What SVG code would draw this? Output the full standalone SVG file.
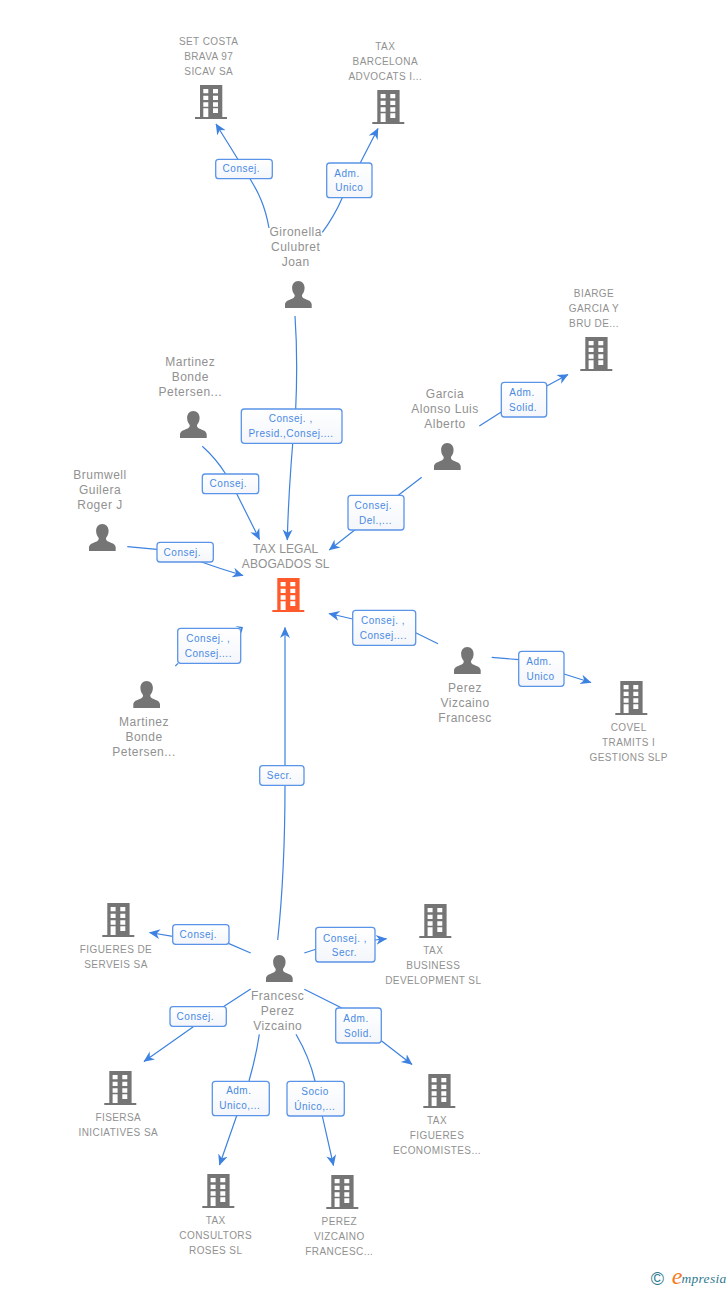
<svg xmlns="http://www.w3.org/2000/svg" xmlns:xlink="http://www.w3.org/1999/xlink" width="728" height="1290" viewBox="0 0 728 1290">
<style>
text{font-family:"Liberation Sans",Arial,sans-serif;text-anchor:middle}
.c{font-size:10px;letter-spacing:.42px;fill:#919191}
.p{font-size:12px;letter-spacing:.5px;fill:#919191}
.m{font-size:12px;letter-spacing:.1px;fill:#919191}
.l{font-size:10px;letter-spacing:.5px;fill:#4a8ae3}
.e{fill:none;stroke:#3d82e0;stroke-width:1.2;marker-end:url(#a)}
.n{fill:none;stroke:#3d82e0;stroke-width:1.2}
.b{fill:url(#g);stroke:#5a94e8;stroke-width:1.3}
</style>
<defs>
<linearGradient id="g" x1="0" y1="0" x2="0" y2="1"><stop offset="0" stop-color="#ffffff"/><stop offset="1" stop-color="#f4f6fb"/></linearGradient>
<marker id="a" markerUnits="userSpaceOnUse" markerWidth="11" markerHeight="11" viewBox="0 0 10 10" refX="9.5" refY="5" orient="auto"><path d="M0,.5 L10,5 L0,9.5 L3,5 Z" fill="#3d82e0"/></marker>
<path id="bd" fill-rule="evenodd" d="M5,0H27.3V32H32V34H0V32H5ZM8.3,4V8.3H13.3V4ZM18,4V8.3H23V4ZM8.3,10.7V15H13.3V10.7ZM18,10.7V15H23V10.7ZM8.3,17.3V21.7H13.3V17.3ZM18,17.3V21.7H23V17.3ZM8.3,23.3V32H13.3V23.3ZM18,23.3V28H23V23.3Z"/>
<path id="pr" d="M13.3,0C17.2,0 19.6,3 19.6,6.8C19.6,10 18.4,12.4 17,14C16.8,15.6 17.4,16.6 19,17.4C23,19 26.7,20 26.7,23.5V27H0V23.5C0,20 3.7,19 7.7,17.4C9.3,16.6 9.9,15.6 9.7,14C8.3,12.4 7.1,10 7.1,6.8C7.1,3 9.4,0 13.3,0Z"/>
</defs>
<rect width="728" height="1290" fill="#ffffff"/>
<g id="connectors">
<path class="e" d="M269,228C265,205 258,192 250,178.7L216,124"/>
<path class="e" d="M322.3,232.3C330,222 337,210 342.3,197.7L378,128.5"/>
<path class="e" d="M295,316C297,345 297,380 295.7,409C290,470 288,510 287.3,540"/>
<path class="e" d="M202.3,446.3C212,455 220,465 225.7,474L236.7,493.7L259.5,539.5"/>
<path class="e" d="M127.3,546.7L157,549.3L201.7,562C215,567 228,571 243,575.5"/>
<path class="e" d="M421.7,477.3L398.3,495.3L354.7,530L329.3,550"/>
<path class="e" d="M479.3,426L501.3,412L546.7,386L568,374.5"/>
<path class="n" d="M175.3,666L178,663.3"/>
<path class="e" d="M438,643.7L415.7,632.7L352.7,619L329,613.5"/>
<path class="e" d="M491.7,657.3L518.7,659.7L564,674L591,682.5"/>
<path class="e" d="M277.7,940C283,890 285,840 285,785L285,627.5"/>
<path class="e" d="M250.7,953L229,943.7L172.7,936.3L149.5,932.5"/>
<path class="e" d="M304.3,953L315.7,949.3L375,940L386.5,938.7"/>
<path class="e" d="M250.7,989L223.3,1006.7L194,1026.3L144,1061.5"/>
<path class="e" d="M304.3,989.3L341.7,1008L381.3,1040.7L412,1064.5"/>
<path class="e" d="M259.3,1034.3C257,1050 253,1067 249,1081L236.7,1115.7L219.5,1165"/>
<path class="e" d="M296,1034.3C304,1048 311,1064 315,1081L322.3,1116L333.5,1165.5"/>
<g id="edge-labels">
<rect class="b" x="215.7" y="159.3" width="56.6" height="19.4" rx="3"/><text class="l" x="241.3" y="172">Consej.</text>
<rect class="b" x="326.7" y="163" width="45.3" height="34.7" rx="3"/><text class="l" x="347" y="176.7">Adm.</text><text class="l" x="349.3" y="191.3">Unico</text>
<rect class="b" x="241.3" y="409" width="100.7" height="34.3" rx="3"/><text class="l" x="290.7" y="422">Consej. ,</text><text class="l" x="291" y="437">Presid.,Consej....</text>
<rect class="b" x="202.3" y="474" width="56.4" height="19.7" rx="3"/><text class="l" x="228.3" y="487">Consej.</text>
<rect class="b" x="157" y="542.3" width="56.3" height="19.7" rx="3"/><text class="l" x="182.3" y="556">Consej.</text>
<rect class="b" x="348" y="495.3" width="56" height="34.7" rx="3"/><text class="l" x="373.3" y="509.3">Consej.</text><text class="l" x="375.5" y="524">Del.,...</text>
<rect class="b" x="501.3" y="382.3" width="45.4" height="34.7" rx="3"/><text class="l" x="522" y="396.3">Adm.</text><text class="l" x="523" y="411">Solid.</text>
<rect class="b" x="177.7" y="628.3" width="63" height="35" rx="3"/><text class="l" x="208.3" y="642.3">Consej. ,</text><text class="l" x="208.3" y="657">Consej....</text>
<path d="M235,626 L243,627 L241.4,633.5 L240.8,628.4 Z" fill="#3d82e0"/>
<rect class="b" x="352.7" y="610.3" width="63" height="35" rx="3"/><text class="l" x="383" y="624.3">Consej. ,</text><text class="l" x="383.3" y="639">Consej....</text>
<rect class="b" x="259.7" y="765.7" width="44.3" height="19.6" rx="3"/><text class="l" x="279.5" y="779">Secr.</text>
<rect class="b" x="518.7" y="651.3" width="45.3" height="35" rx="3"/><text class="l" x="539" y="665.3">Adm.</text><text class="l" x="540.5" y="680">Unico</text>
<rect class="b" x="172.7" y="924.7" width="56.3" height="19.6" rx="3"/><text class="l" x="198.3" y="938">Consej.</text>
<rect class="b" x="170" y="1006.7" width="56.3" height="19.6" rx="3"/><text class="l" x="195.3" y="1020.3">Consej.</text>
<rect class="b" x="315.7" y="927.3" width="59.3" height="34.7" rx="3"/><text class="l" x="345" y="941.7">Consej. ,</text><text class="l" x="344.5" y="956">Secr.</text>
<rect class="b" x="335.7" y="1008" width="45.6" height="35" rx="3"/><text class="l" x="356" y="1022.3">Adm.</text><text class="l" x="358" y="1037">Solid.</text>
<rect class="b" x="212.3" y="1081.3" width="57" height="34.4" rx="3"/><text class="l" x="238.8" y="1094.3">Adm.</text><text class="l" x="239.8" y="1109">Unico,...</text>
<rect class="b" x="287" y="1081.3" width="57.3" height="34.7" rx="3"/><text class="l" x="315" y="1095">Socio</text><text class="l" x="314.8" y="1110">Único,...</text>
</g>
</g>
<g id="n-set"><use xlink:href="#bd" href="#bd" x="195" y="85" fill="#757575"/><text class="c" x="208.7" y="45">SET COSTA</text><text class="c" x="208.7" y="60">BRAVA 97</text><text class="c" x="208.7" y="75">SICAV SA</text></g>
<g id="n-barcelona"><use xlink:href="#bd" href="#bd" x="372.3" y="90" fill="#757575"/><text class="c" x="385.3" y="50">TAX</text><text class="c" x="385.3" y="65">BARCELONA</text><text class="c" x="385.3" y="80">ADVOCATS I...</text></g>
<g id="n-gironella"><use xlink:href="#pr" href="#pr" x="285" y="281" fill="#757575"/><text class="p" x="295.7" y="236">Gironella</text><text class="p" x="295.7" y="251">Culubret</text><text class="p" x="295.7" y="266">Joan</text></g>
<g id="n-biarge"><use xlink:href="#bd" href="#bd" x="580.3" y="337" fill="#757575"/><text class="c" x="594" y="297">BIARGE</text><text class="c" x="594" y="312">GARCIA Y</text><text class="c" x="594" y="327">BRU DE...</text></g>
<g id="n-martinez1"><use xlink:href="#pr" href="#pr" x="180" y="411" fill="#757575"/><text class="p" x="190.3" y="366">Martinez</text><text class="p" x="190.3" y="381">Bonde</text><text class="p" x="190.3" y="396">Petersen...</text></g>
<g id="n-garcia"><use xlink:href="#pr" href="#pr" x="434" y="443" fill="#757575"/><text class="p" x="445" y="398">Garcia</text><text class="p" x="445" y="413">Alonso Luis</text><text class="p" x="445" y="428">Alberto</text></g>
<g id="n-brumwell"><use xlink:href="#pr" href="#pr" x="89" y="524" fill="#757575"/><text class="p" x="100" y="479">Brumwell</text><text class="p" x="100" y="494">Guilera</text><text class="p" x="100" y="509">Roger J</text></g>
<g id="n-taxlegal"><use xlink:href="#bd" href="#bd" x="272.3" y="578" fill="#ff5a2b"/><text class="m" x="285.7" y="553">TAX LEGAL</text><text class="m" x="285.7" y="568">ABOGADOS SL</text></g>
<g id="n-martinez2"><use xlink:href="#pr" href="#pr" x="133.3" y="681" fill="#757575"/><text class="p" x="144" y="726">Martinez</text><text class="p" x="144" y="741">Bonde</text><text class="p" x="144" y="756">Petersen...</text></g>
<g id="n-perez"><use xlink:href="#pr" href="#pr" x="454" y="647" fill="#757575"/><text class="p" x="465" y="692">Perez</text><text class="p" x="465" y="707">Vizcaino</text><text class="p" x="465" y="722">Francesc</text></g>
<g id="n-covel"><use xlink:href="#bd" href="#bd" x="615.3" y="681" fill="#757575"/><text class="c" x="628.7" y="731">COVEL</text><text class="c" x="628.7" y="746">TRAMITS I</text><text class="c" x="628.7" y="761">GESTIONS SLP</text></g>
<g id="n-figueres"><use xlink:href="#bd" href="#bd" x="102.3" y="903" fill="#757575"/><text class="c" x="116" y="953">FIGUERES DE</text><text class="c" x="116" y="968">SERVEIS SA</text></g>
<g id="n-francesc"><use xlink:href="#pr" href="#pr" x="266" y="955" fill="#757575"/><text class="p" x="277.7" y="1000">Francesc</text><text class="p" x="277.7" y="1015">Perez</text><text class="p" x="277.7" y="1030">Vizcaino</text></g>
<g id="n-business"><use xlink:href="#bd" href="#bd" x="419.3" y="904" fill="#757575"/><text class="c" x="433.3" y="954">TAX</text><text class="c" x="433.3" y="969">BUSINESS</text><text class="c" x="433.3" y="984">DEVELOPMENT SL</text></g>
<g id="n-fisersa"><use xlink:href="#bd" href="#bd" x="104.3" y="1071" fill="#757575"/><text class="c" x="118.3" y="1121">FISERSA</text><text class="c" x="118.3" y="1136">INICIATIVES SA</text></g>
<g id="n-taxfigueres"><use xlink:href="#bd" href="#bd" x="423.3" y="1074" fill="#757575"/><text class="c" x="437" y="1124">TAX</text><text class="c" x="437" y="1139">FIGUERES</text><text class="c" x="437" y="1154">ECONOMISTES...</text></g>
<g id="n-consultors"><use xlink:href="#bd" href="#bd" x="202.3" y="1174" fill="#757575"/><text class="c" x="215.7" y="1224">TAX</text><text class="c" x="215.7" y="1239">CONSULTORS</text><text class="c" x="215.7" y="1254">ROSES SL</text></g>
<g id="n-perezv"><use xlink:href="#bd" href="#bd" x="326.3" y="1175" fill="#757575"/><text class="c" x="339.3" y="1225">PEREZ</text><text class="c" x="339.3" y="1240">VIZCAINO</text><text class="c" x="339.3" y="1255">FRANCESC...</text></g>
<g id="logo"><text x="657.5" y="1284.5" style="font-size:18px;fill:#2f7a8f">©</text><text x="677" y="1284" style="font-family:'Liberation Serif',serif;font-style:italic;font-size:24px;fill:#f47a1c">e</text><text x="704" y="1283" style="font-family:'Liberation Serif',serif;font-style:italic;font-size:13.5px;letter-spacing:.3px;fill:#2f7a8f">mpresia</text></g>
</svg>
